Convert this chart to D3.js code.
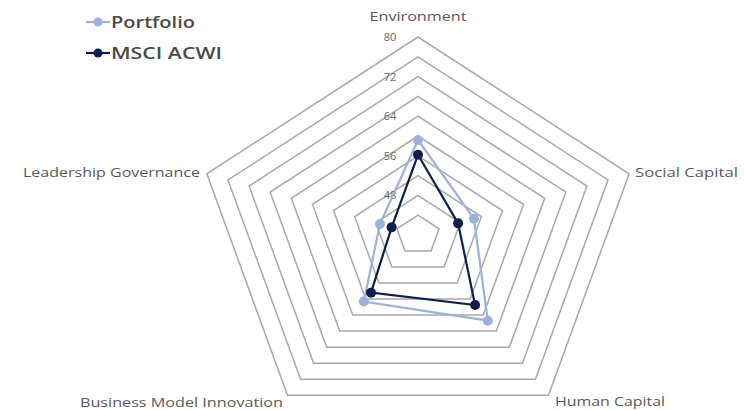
<!DOCTYPE html>
<html><head><meta charset="utf-8">
<script src="https://cdn.jsdelivr.net/npm/d3@7"></script>
<style>body{margin:0;background:#fff}svg{display:block}</style>
</head><body>
<svg id="c" width="744" height="410"></svg>
<script>
const categories = ["Environment","Social Capital","Human Capital","Business Model Innovation","Leadership Governance"];
const portfolio = [59.2, 50.6, 61.4, 56.6, 47.2];
const msciAcwi = [56.2, 47.6, 57.5, 54.4, 45.0];
const tickLabels = [48, 56, 64, 72, 80];
const ringValues = [44, 48, 52, 56, 60, 64, 68, 72, 76, 80];
const seriesNames = ["Portfolio", "MSCI ACWI"];

const svg = d3.select("#c");
const cx = 418, cy = 235, rx = 222, ry = 198;
const r = d3.scaleLinear().domain([40, 80]).range([0, 1]);
const ang = d3.scalePoint().domain(categories).range([0, 2*Math.PI*4/5]);
function pt(cat, v){ const a = ang(cat), f = r(v); return [cx + rx*f*Math.sin(a), cy - ry*f*Math.cos(a)]; }

// grid rings
svg.append("g").selectAll("path").data(ringValues).join("path")
  .attr("d", v => d3.line()(categories.map(c => pt(c, v))) + "Z")
  .attr("fill","none").attr("stroke","#a8a8a8").attr("stroke-width",1.5);

// tick labels
svg.append("g").selectAll("text").data(tickLabels).join("text")
  .attr("x", 390).attr("y", v => pt(categories[0], v)[1] + 4)
  .attr("text-anchor","middle").attr("font-family","Open Sans, sans-serif")
  .attr("font-size",11).attr("fill","#666").text(d => d);

// axis labels
const lab = [
  {x:418, y:21, anchor:"middle", len:97},
  {x:635, y:177, anchor:"start", len:103},
  {x:555, y:406, anchor:"start", len:110},
  {x:283, y:407, anchor:"end", len:203},
  {x:200, y:177, anchor:"end", len:177}
];
svg.append("g").selectAll("text").data(categories).join("text")
  .attr("x",(d,i)=>lab[i].x).attr("y",(d,i)=>lab[i].y)
  .attr("text-anchor",(d,i)=>lab[i].anchor)
  .attr("textLength",(d,i)=>lab[i].len).attr("lengthAdjust","spacingAndGlyphs")
  .attr("font-family","Open Sans, sans-serif").attr("font-size",12).attr("fill","#595959")
  .text(d=>d);

const colors = ["#9fb0da", "#0f1f4b"];
const data = [portfolio, msciAcwi];
data.forEach((vals, s) => {
  const pts = categories.map((c,i)=>pt(c, vals[i]));
  svg.append("path").attr("d", d3.line()(pts)+"Z").attr("fill","none")
    .attr("stroke", colors[s]).attr("stroke-width", 2.2);
  svg.append("g").selectAll("circle").data(pts).join("circle")
    .attr("cx",d=>d[0]).attr("cy",d=>d[1]).attr("r",5).attr("fill",colors[s]);
});

// legend
const lg = svg.append("g");
seriesNames.forEach((n,i)=>{
  const y = 22 + i*31;
  lg.append("line").attr("x1",86).attr("x2",110).attr("y1",y).attr("y2",y)
    .attr("stroke",colors[i]).attr("stroke-width",2.2);
  lg.append("circle").attr("cx",98).attr("cy",y).attr("r",4.5).attr("fill",colors[i]);
  lg.append("text").attr("x",111).attr("y",y+6).attr("font-family","Open Sans, sans-serif")
    .attr("font-weight",600).attr("font-size",16).attr("fill","#4a4a4a")
    .attr("textLength", i===0?84:111).attr("lengthAdjust","spacingAndGlyphs").text(n);
});
</script>
</body></html>
